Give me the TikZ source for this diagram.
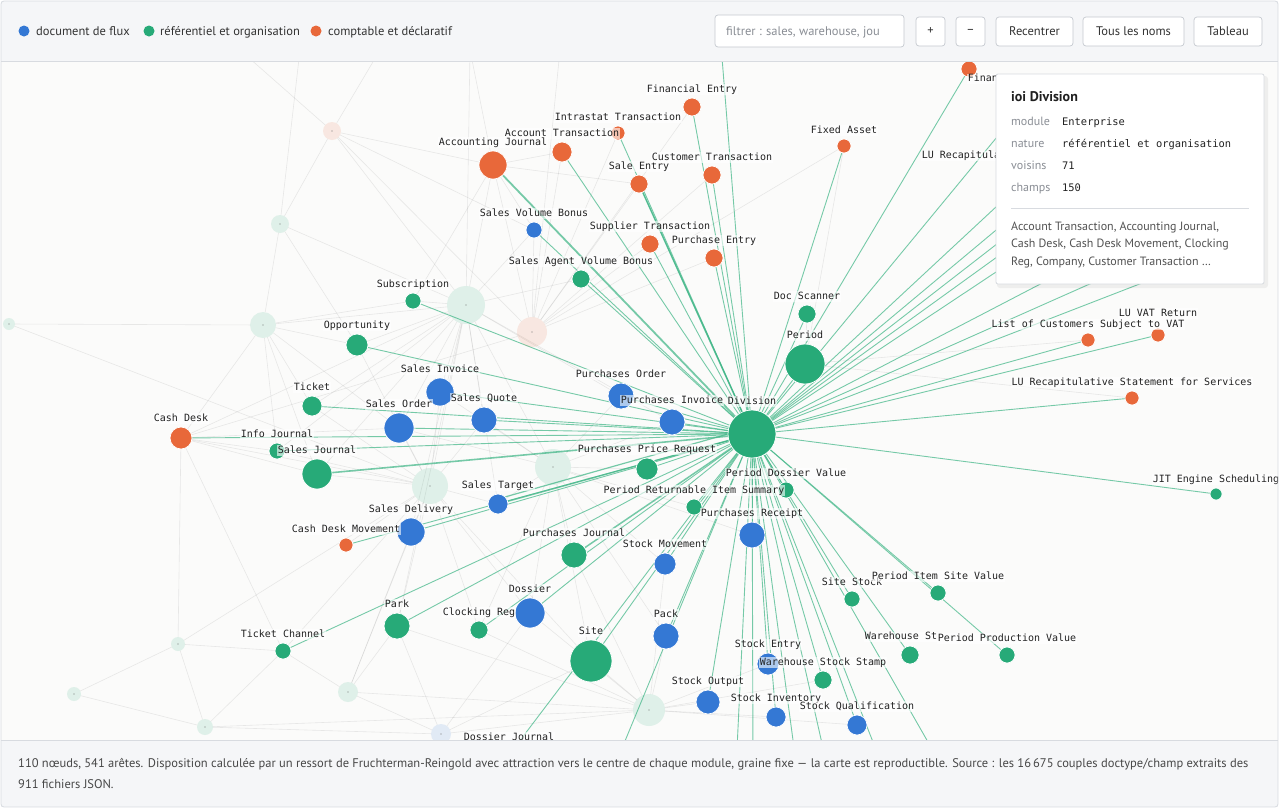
\documentclass[tikz,border=0pt]{standalone}
\usepackage{fontspec}
\setmainfont{PT Sans}
\newfontfamily\monof{DejaVu Sans Mono}
\definecolor{cblue}{HTML}{3478D4}
\definecolor{cgreen}{HTML}{27AA78}
\definecolor{corange}{HTML}{E8683A}
\definecolor{hubgreen}{HTML}{3DB585}
\definecolor{panel}{HTML}{F5F6F8}
\definecolor{canvas}{HTML}{FBFBFA}
\definecolor{framec}{HTML}{D8DBE0}
\definecolor{btnb}{HTML}{C5C9CF}
\definecolor{uitxt}{HTML}{333333}
\definecolor{mutetxt}{HTML}{8A8E95}
\definecolor{lbltxt}{HTML}{222222}
\pgfdeclarelayer{bgl}
\pgfdeclarelayer{faintl}
\pgfdeclarelayer{edgel}
\pgfdeclarelayer{lbll}
\pgfdeclarelayer{uil}
\pgfsetlayers{bgl,faintl,edgel,main,lbll,uil}
\newcommand\gnode[6]{%
 \node[dot, fill=#5, minimum size={2*#4pt}] (#1) at (#2,#3) {};
 \begin{pgfonlayer}{lbll}\node[lbl, above=3pt] (#1l) at (#1.north) {#6};\end{pgfonlayer}}
\newcommand\gnodeq[5]{%
 \node[dot, fill=#5, minimum size={2*#4pt}] (#1) at (#2,#3) {};}
\newcommand\ghost[5]{%
 \node[dot, draw=none, fill=#5, fill opacity=0.13, minimum size={2*#4pt}] (#1) at (#2,#3) {};
 \fill[black!55, opacity=.45] (#1.center) circle (0.9pt);}
\begin{document}
\begin{tikzpicture}[x=1pt,y=-1pt,
 dot/.style={circle, inner sep=0pt, outer sep=0pt, draw=white, line width=0.7pt},
 lbl/.style={font=\monof\fontsize{10}{12}\selectfont, text=lbltxt, inner sep=0.6pt, text height=7.5pt, text depth=2pt, fill=white, fill opacity=0.6, text opacity=1},
 hubedge/.style={draw=hubgreen, line width=0.9pt, opacity=0.7},
 faint/.style={draw=gray, line width=0.6pt, opacity=0.16},
 ui/.style={font=\fontsize{12.5}{15}\selectfont, text=uitxt, inner sep=0pt},
 btn/.style={draw=btnb, fill=white, rounded corners=3pt, line width=0.7pt}]
\useasboundingbox (0,0) rectangle (1279,809);
\begin{pgfonlayer}{bgl}
\fill[white] (0,0) rectangle (1279,809);
\fill[canvas] (1,61) rectangle (1278,740);
\end{pgfonlayer}
% ghost nodes
\ghost{g1}{466}{305}{19}{cgreen}
\ghost{g2}{532}{332}{15}{corange}
\ghost{g3}{332}{131}{9}{corange}
\ghost{g4}{263}{325}{13}{cgreen}
\ghost{g5}{280}{224}{9}{cgreen}
\ghost{g6}{9}{324}{6}{cgreen}
\ghost{g7}{430}{486}{18}{cgreen}
\ghost{g8}{553}{467}{18}{cgreen}
\ghost{g9}{178}{644}{7}{cgreen}
\ghost{g10}{74}{694}{7}{cgreen}
\ghost{g11}{348}{692}{10}{cgreen}
\ghost{g12}{205}{727}{8}{cgreen}
\ghost{g13}{441}{734}{10}{cblue}
\ghost{g14}{649}{710}{16}{cgreen}
% orange nodes
\gnode{fe}{692}{107}{9}{corange}{Financial Entry}
\gnode{it}{618}{133}{7}{corange}{Intrastat Transaction}
\gnode{at}{562}{152}{10}{corange}{Account Transaction}
\gnode{aj}{493}{165}{14}{corange}{Accounting Journal}
\gnode{se}{639}{184}{9}{corange}{Sale Entry}
\gnode{ct}{712}{175}{9}{corange}{Customer Transaction}
\gnode{fa}{844}{146}{7}{corange}{Fixed Asset}
\gnode{st}{650}{244}{9}{corange}{Supplier Transaction}
\gnode{pe}{714}{258}{9}{corange}{Purchase Entry}
\gnodeq{fi}{969}{69}{8}{corange}
\gnodeq{lvr}{1158}{335}{7}{corange}
\begin{pgfonlayer}{lbll}\node[lbl, above=9pt] (lvrl) at (lvr.north) {LU VAT Return};\end{pgfonlayer}
\gnode{lcv}{1088}{340}{7}{corange}{List of Customers Subject to VAT}
\gnode{lrs}{1132}{398}{7}{corange}{LU Recapitulative Statement for Services}
\gnode{cd}{181}{438}{11}{corange}{Cash Desk}
\gnode{cdm}{346}{545}{7}{corange}{Cash Desk Movement}
% blue nodes
\gnode{svb}{534}{230}{8}{cblue}{Sales Volume Bonus}
\gnode{si}{440}{392}{14}{cblue}{Sales Invoice}
\gnode{po}{621}{396}{13}{cblue}{Purchases Order}
\gnode{sq}{484}{420}{13}{cblue}{Sales Quote}
\gnode{so}{399}{428}{15}{cblue}{Sales Order}
\gnode{pi}{672}{422}{13}{cblue}{Purchases Invoice}
\gnode{sta}{498}{504}{10}{cblue}{Sales Target}
\gnode{sd}{411}{532}{14}{cblue}{Sales Delivery}
\gnode{pr}{752}{535}{13}{cblue}{Purchases Receipt}
\gnode{sm}{665}{564}{11}{cblue}{Stock Movement}
\gnode{dos}{530}{613}{15}{cblue}{Dossier}
\gnode{pk}{666}{636}{13}{cblue}{Pack}
\gnode{sen}{768}{664}{11}{cblue}{Stock Entry}
\gnode{sou}{708}{702}{12}{cblue}{Stock Output}
\gnode{sin}{776}{717}{10}{cblue}{Stock Inventory}
\gnode{sqa}{857}{725}{10}{cblue}{Stock Qualification}
\gnode{dj}{509}{755}{9}{cblue}{Dossier Journal}
% green nodes
\gnode{sub}{413}{301}{8}{cgreen}{Subscription}
\gnode{opp}{357}{345}{11}{cgreen}{Opportunity}
\gnode{savb}{581}{279}{9}{cgreen}{Sales Agent Volume Bonus}
\gnode{ds}{807}{314}{9}{cgreen}{Doc Scanner}
\gnode{per}{805}{364}{20}{cgreen}{Period}
\gnode{tk}{312}{406}{10}{cgreen}{Ticket}
\gnode{ij}{277}{451}{8}{cgreen}{Info Journal}
\gnode{sj}{317}{474}{15}{cgreen}{Sales Journal}
\gnode{ppr}{647}{469}{11}{cgreen}{Purchases Price Request}
\gnode{pdv}{786}{490}{8}{cgreen}{Period Dossier Value}
\gnode{pris}{694}{507}{8}{cgreen}{Period Returnable Item Summary}
\gnode{pj}{574}{555}{13}{cgreen}{Purchases Journal}
\gnode{park}{397}{626}{13}{cgreen}{Park}
\gnode{cr}{479}{630}{9}{cgreen}{Clocking Reg}
\gnode{tc}{283}{651}{8}{cgreen}{Ticket Channel}
\gnode{site}{591}{661}{21}{cgreen}{Site}
\gnode{ss}{852}{599}{8}{cgreen}{Site Stock}
\gnode{pisv}{938}{593}{8}{cgreen}{Period Item Site Value}
\gnodeq{wst}{910}{655}{9}{cgreen}
\begin{pgfonlayer}{lbll}\node[lbl, anchor=west] (wstl) at (864,637) {Warehouse St};\end{pgfonlayer}
\gnode{ppv}{1007}{655}{8}{cgreen}{Period Production Value}
\gnode{wss}{823}{680}{9}{cgreen}{Warehouse Stock Stamp}
\gnode{jit}{1216}{494}{6}{cgreen}{JIT Engine Scheduling}
\gnode{hub}{752}{434}{24}{cgreen}{Division}
\begin{pgfonlayer}{lbll}
\node[lbl, anchor=west] (fil) at (967,79) {Finan};
\node[lbl, anchor=west] (lrgl) at (921,156) {LU Recapitula};
\end{pgfonlayer}
% hidden end points (under tooltip / outside the canvas)
\coordinate (t1) at (1030,97);
\coordinate (t2) at (1040,166);
\coordinate (t3) at (1050,185);
\coordinate (t4) at (1060,195);
\coordinate (t5) at (1080,197);
\coordinate (t6) at (1100,203);
\coordinate (t7) at (1150,227);
\coordinate (t8) at (1200,235);
\coordinate (t9) at (1230,249);
\coordinate (top1) at (721,45);
\coordinate (b1) at (613,770);
\coordinate (b2) at (736,770);
\coordinate (b3) at (753,770);
\coordinate (b4) at (797,770);
\coordinate (b5) at (828,770);
\coordinate (b6) at (884,770);
\coordinate (b7) at (944,770);
\coordinate (ex1) at (240,50);
\coordinate (ex2) at (380,50);
\coordinate (ex3) at (300,50);
\coordinate (ex4) at (470,50);
\coordinate (ex5) at (560,50);
% highlighted edges of the hovered node
\begin{pgfonlayer}{edgel}
\foreach \n in {fe,it,at,se,ct,fa,st,pe,fi,lvr,lcv,lrs,cd,cdm,svb,si,po,sq,so,pi,sd,pr,sm,dos,pk,sen,sou,sin,sqa,dj,sub,opp,savb,ds,per,tk,ij,ppr,pdv,pris,park,cr,tc,site,ss,pisv,wst,ppv,wss,jit,t1,t2,t3,t4,t5,t6,t7,t8,t9,top1,b1,b2,b3,b4,b5,b6,b7}
  \draw[hubedge] (hub) -- (\n);
\draw[hubedge, line width=1.8pt] (hub) -- (aj);
\draw[hubedge, line width=1.6pt] (hub) -- (sj);
\draw[hubedge, line width=1.5pt] (hub) -- (se);
\draw[hubedge, line width=1.5pt] (hub) -- (pj);
\draw[hubedge, line width=1.4pt] (hub) -- (sta);
\draw[hubedge, line width=1.2pt] (hub.west) -- (sta.north east);
\end{pgfonlayer}
% faint background edges
\begin{pgfonlayer}{faintl}
\foreach \a/\b in {g1/sub,g1/opp,g1/si,g1/so,g1/sq,g1/tk,g1/sj,g1/sd,g1/sta,g1/aj,g1/svb,g1/savb,g1/ij,g1/cd,g1/g4,g1/g3,g1/park,g1/po,g1/pi,g1/g7,g1/g8,g1/g5,g1/ex4,
 g2/aj,g2/at,g2/se,g2/st,g2/fe,g2/pe,g2/ct,g2/it,g2/g3,g2/fa,g2/cd,g2/svb,g2/ex5,
 g7/so,g7/sd,g7/park,g7/dos,g7/cdm,g7/tc,g7/sj,g7/site,g7/cr,g7/ij,g7/g9,g7/g11,g7/sta,g7/sq,g7/si,g7/tk,g7/cd,g7/g6,g7/opp,
 g8/po,g8/pi,g8/ppr,g8/pj,g8/pr,g8/sm,g8/sta,g8/dos,g8/site,g8/pk,g8/pris,g8/sq,g8/cr,g8/si,g8/so,
 g14/site,g14/pk,g14/sou,g14/sen,g14/sin,g14/sqa,g14/wss,g14/sm,g14/dos,g14/park,g14/g11,g14/cr,g14/g12,g14/g13,g14/pj,
 g4/cd,g4/tk,g4/opp,g4/ij,g4/sj,g4/g6,g4/g5,g4/sub,g4/so,
 g3/g5,g3/aj,g3/svb,g3/ex1,g3/ex2,g5/opp,g5/ex3,
 g9/tc,g9/g10,g9/g12,g10/g12,g12/tc,g12/g13,g13/dos,g13/park,g13/site,g13/g11,g11/tc,g11/park,g11/sd,
 per/lcv,per/lrs,per/ds,per/fa,cd/so,cd/sj,cd/ij,cd/tc,cd/g9,aj/at,aj/se,aj/svb,aj/sub,aj/ex4}
  \draw[faint] (\a) -- (\b);
\end{pgfonlayer}
% interface panels
\begin{pgfonlayer}{uil}
\fill[panel] (1,1) rectangle (1278,61);
\draw[framec, line width=0.8pt] (1,61) -- (1278,61);
\fill[panel] (1,740) rectangle (1278,807);
\draw[framec, line width=0.8pt] (1,740) -- (1278,740);
\draw[framec, line width=0.8pt, rounded corners=3pt] (1,1) rectangle (1278,807);
% legend
\node[dot, draw=none, fill=cblue, minimum size=11pt] (lg1) at (24,31) {};
\node[ui, anchor=base west] (lg1t) at (36,35.5) {document de flux};
\node[dot, draw=none, fill=cgreen, minimum size=11pt] (lg2) at (149,31) {};
\node[ui, anchor=base west] (lg2t) at (160,35.5) {référentiel et organisation};
\node[dot, draw=none, fill=corange, minimum size=11pt] (lg3) at (316,31) {};
\node[ui, anchor=base west] (lg3t) at (328,35.5) {comptable et déclaratif};
% controls
\draw[btn] (715,15) rectangle (904,47);
\node[ui, anchor=base west, text=mutetxt] (flt) at (726,35.5) {filtrer : sales, warehouse, jou};
\draw[btn] (916,17) rectangle (945,46);
\node[ui] (bplus) at (930.5,31) {+};
\draw[btn] (956,17) rectangle (985,46);
\node[ui] (bminus) at (970.5,31) {–};
\draw[btn] (996,17) rectangle (1073,46);
\node[ui] (brec) at (1034.5,31) {Recentrer};
\draw[btn] (1083,17) rectangle (1184,46);
\node[ui] (bnoms) at (1133.5,31) {Tous les noms};
\draw[btn] (1194,17) rectangle (1262,46);
\node[ui] (btab) at (1228,31) {Tableau};
% footer
\node[ui, anchor=base west, text=black!72] (ft1) at (18,767.5) {110 nœuds, 541 arêtes. Disposition calculée par un ressort de Fruchterman-Reingold avec attraction vers le centre de chaque module, graine fixe — la carte est reproductible. Source : les 16\,675 couples doctype/champ extraits des};
\node[ui, anchor=base west, text=black!72] (ft2) at (18,788.5) {911 fichiers JSON.};
% tooltip
\fill[black, opacity=0.05, rounded corners=3pt] (997,76) rectangle (1268,288);
\draw[framec, fill=white, line width=0.8pt, rounded corners=2pt] (996,74) rectangle (1264,284);
\node[anchor=base west, inner sep=0pt, font=\bfseries\fontsize{14}{16}\selectfont, text=black!88] (ttl) at (1011,101) {ioi Division};
\node[ui, anchor=base west, text=mutetxt, font=\fontsize{12}{14}\selectfont] (k1) at (1011,125) {module};
\node[ui, anchor=base west, text=mutetxt, font=\fontsize{12}{14}\selectfont] (k2) at (1011,147) {nature};
\node[ui, anchor=base west, text=mutetxt, font=\fontsize{12}{14}\selectfont] (k3) at (1011,169) {voisins};
\node[ui, anchor=base west, text=mutetxt, font=\fontsize{12}{14}\selectfont] (k4) at (1011,191) {champs};
\node[anchor=base west, inner sep=0pt, font=\monof\fontsize{10.4}{12}\selectfont, text=lbltxt] (v1) at (1062,125) {Enterprise};
\node[anchor=base west, inner sep=0pt, font=\monof\fontsize{10.4}{12}\selectfont, text=lbltxt] (v2) at (1062,147) {référentiel et organisation};
\node[anchor=base west, inner sep=0pt, font=\monof\fontsize{10.4}{12}\selectfont, text=lbltxt] (v3) at (1062,169) {71};
\node[anchor=base west, inner sep=0pt, font=\monof\fontsize{10.4}{12}\selectfont, text=lbltxt] (v4) at (1062,191) {150};
\draw[framec, line width=0.8pt] (1011,208) -- (1249,208);
\node[ui, anchor=base west, text=black!68, font=\fontsize{12}{14}\selectfont] (d1) at (1011,230) {Account Transaction, Accounting Journal,};
\node[ui, anchor=base west, text=black!68, font=\fontsize{12}{14}\selectfont] (d2) at (1011,247.5) {Cash Desk, Cash Desk Movement, Clocking};
\node[ui, anchor=base west, text=black!68, font=\fontsize{12}{14}\selectfont] (d3) at (1011,265) {Reg, Company, Customer Transaction …};
\end{pgfonlayer}
\end{tikzpicture}
\end{document}
